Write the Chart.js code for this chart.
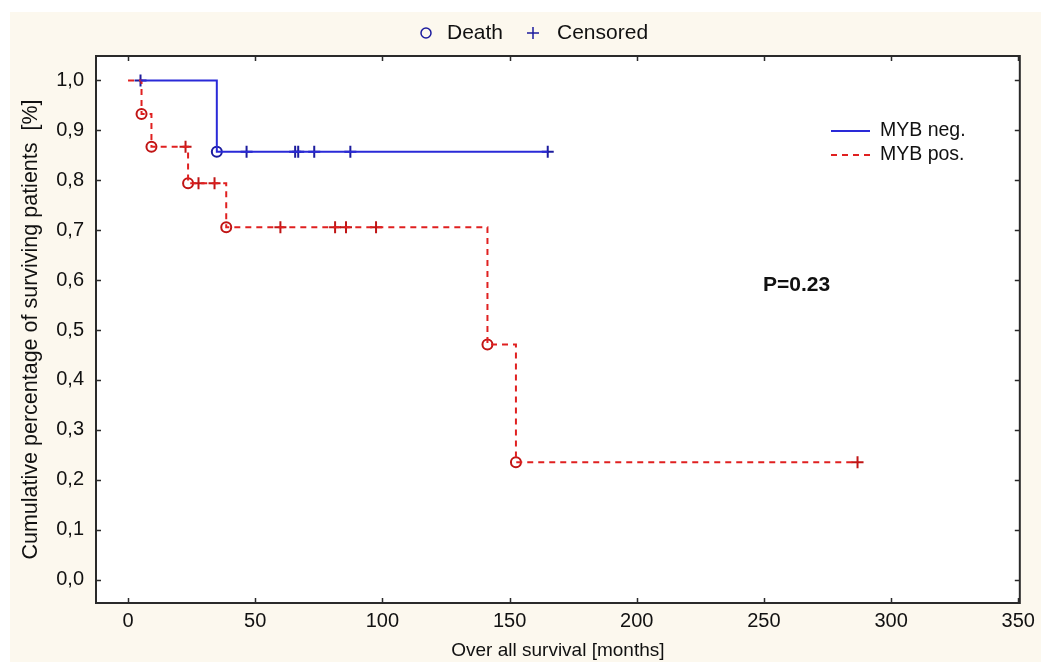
<!DOCTYPE html>
<html>
<head>
<meta charset="utf-8">
<script src="https://cdn.jsdelivr.net/npm/chart.js@4.4.1/dist/chart.umd.min.js"></script>
<style>
  body { margin: 0; background: #fff; }
  canvas { display: block; }
</style>
</head>
<body>
<canvas id="kmChart" width="1041" height="662"></canvas>
<script>
    // Kaplan-Meier curves (time in months, cumulative survival)
    const negCurveT = [4.9, 34.9, 165];
    const negCurveS = [1.0, 0.857, 0.857];
    const posCurveT = [0, 5.3, 9.2, 23.6, 38.6, 141.3, 152.5, 286.8];
    const posCurveS = [1.0, 0.933, 0.867, 0.794, 0.706, 0.471, 0.235, 0.235];

    // deaths (circles)
    const negDeathT = [34.9];
    const negDeathS = [0.857];
    const posDeathT = [5.3, 9.2, 23.6, 38.6, 141.3, 152.5];
    const posDeathS = [0.933, 0.867, 0.794, 0.706, 0.471, 0.235];

    // censored (crosses)
    const negCensT = [4.9, 46.6, 65.7, 66.9, 73.2, 87.4, 165];
    const negCensS = [1.0, 0.857, 0.857, 0.857, 0.857, 0.857, 0.857];
    const posCensT = [22.6, 27.7, 34, 59.9, 81.4, 85.7, 97.5, 286.8];
    const posCensS = [0.867, 0.794, 0.794, 0.706, 0.706, 0.706, 0.706, 0.235];

    const xTicks = [0, 50, 100, 150, 200, 250, 300, 350];
    const yTicks = [0, 0.1, 0.2, 0.3, 0.4, 0.5, 0.6, 0.7, 0.8, 0.9, 1.0];

    const BLUE = '#2a2ad8';
    const BLUE_DARK = '#1c1c9e';
    const RED = '#e02020';
    const RED_DARK = '#c01515';
    const TEXT = '#111';
    const FONT = '"Liberation Sans", Arial, sans-serif';

    const pts = (xs, ys) => xs.map((x, i) => ({ x: x, y: ys[i] }));

    // фон, рамка, внутренние засечки, легенды
    const decor = {
        id: 'decor',
        beforeDraw(chart) {
            const ctx = chart.ctx;
            const a = chart.chartArea;
            ctx.save();
            ctx.fillStyle = '#ffffff';
            ctx.fillRect(0, 0, chart.width, chart.height);
            ctx.fillStyle = '#fcf8ee';
            ctx.fillRect(10, 12, chart.width - 10, chart.height - 12);
            ctx.fillStyle = '#ffffff';
            ctx.fillRect(a.left, a.top, a.right - a.left, a.bottom - a.top);
            ctx.restore();
        },
        afterDraw(chart) {
            const ctx = chart.ctx;
            const a = chart.chartArea;
            const xs = chart.scales.x, ys = chart.scales.y;
            ctx.save();
            ctx.strokeStyle = '#2a2a2a';
            ctx.lineWidth = 2;
            ctx.strokeRect(a.left, a.top, a.right - a.left, a.bottom - a.top);

            ctx.lineWidth = 1.5;
            ctx.beginPath();
            xs.ticks.forEach(t => {
                const px = Math.round(xs.getPixelForValue(t.value)) + 0.5;
                ctx.moveTo(px, a.bottom); ctx.lineTo(px, a.bottom - 5);
                ctx.moveTo(px, a.top); ctx.lineTo(px, a.top + 5);
            });
            ys.ticks.forEach(t => {
                const py = Math.round(ys.getPixelForValue(t.value)) + 0.5;
                ctx.moveTo(a.left, py); ctx.lineTo(a.left + 5, py);
                ctx.moveTo(a.right, py); ctx.lineTo(a.right - 5, py);
            });
            ctx.stroke();

            // верхняя легенда
            ctx.font = '21px ' + FONT;
            ctx.textBaseline = 'middle';
            ctx.fillStyle = TEXT;
            ctx.strokeStyle = BLUE_DARK;
            ctx.lineWidth = 1.5;
            ctx.beginPath();
            ctx.arc(426, 33, 5, 0, Math.PI * 2);
            ctx.stroke();
            ctx.fillText('Death', 447, 33);
            ctx.beginPath();
            ctx.moveTo(527, 33); ctx.lineTo(539, 33);
            ctx.moveTo(533, 27); ctx.lineTo(533, 39);
            ctx.stroke();
            ctx.fillText('Censored', 557, 33);

            // легенда серий
            ctx.font = '19.5px ' + FONT;
            ctx.lineWidth = 2;
            ctx.strokeStyle = BLUE;
            ctx.beginPath();
            ctx.moveTo(831, 131); ctx.lineTo(870, 131);
            ctx.stroke();
            ctx.strokeStyle = RED;
            ctx.setLineDash([6, 5]);
            ctx.beginPath();
            ctx.moveTo(831, 155); ctx.lineTo(870, 155);
            ctx.stroke();
            ctx.setLineDash([]);
            ctx.fillText('MYB neg.', 880, 131);
            ctx.fillText('MYB pos.', 880, 155);

            ctx.font = 'bold 21px ' + FONT;
            ctx.fillText('P=0.23', 763, 285);
            ctx.restore();
        }
    };

    const config = {
        type: 'scatter',
        data: {
            datasets: [
                {
                    label: 'MYB neg.', data: pts(negCurveT, negCurveS), showLine: true, stepped: 'before',
                    borderColor: BLUE, borderWidth: 2, pointRadius: 0
                },
                {
                    label: 'MYB pos.', data: pts(posCurveT, posCurveS), showLine: true, stepped: 'before',
                    borderColor: RED, borderWidth: 2, borderDash: [6, 5], pointRadius: 0
                },
                {
                    label: 'neg death', data: pts(negDeathT, negDeathS), pointStyle: 'circle', pointRadius: 5,
                    borderColor: BLUE_DARK, backgroundColor: 'rgba(0,0,0,0)', borderWidth: 2
                },
                {
                    label: 'pos death', data: pts(posDeathT, posDeathS), pointStyle: 'circle', pointRadius: 5,
                    borderColor: RED_DARK, backgroundColor: 'rgba(0,0,0,0)', borderWidth: 2
                },
                {
                    label: 'pos censored', data: pts(posCensT, posCensS), pointStyle: 'cross', pointRadius: 6,
                    borderColor: RED_DARK, borderWidth: 2
                },
                {
                    label: 'neg censored', data: pts(negCensT, negCensS), pointStyle: 'cross', pointRadius: 6,
                    borderColor: BLUE_DARK, borderWidth: 2
                }
            ]
        },
        options: {
            responsive: false,
            animation: false,
            events: [],
            layout: { padding: { top: 56, right: 19, bottom: 0, left: 0 } },
            plugins: { legend: { display: false }, tooltip: { enabled: false } },
            scales: {
                x: {
                    type: 'linear', min: -12.6, max: 350.6,
                    grid: { display: false, drawTicks: false }, border: { display: false },
                    afterBuildTicks: s => { s.ticks = xTicks.map(v => ({ value: v })); },
                    afterFit: s => { s.height = 59; },
                    ticks: { color: TEXT, padding: 6, font: { family: FONT, size: 20 } },
                    title: {
                        display: true, text: 'Over all survival [months]', color: TEXT,
                        font: { family: FONT, size: 19 }, padding: { top: 0, bottom: 0 }
                    }
                },
                y: {
                    type: 'linear', min: -0.047, max: 1.049,
                    grid: { display: false, drawTicks: false }, border: { display: false },
                    afterBuildTicks: s => { s.ticks = yTicks.map(v => ({ value: v })); },
                    afterFit: s => { s.width = 96; },
                    ticks: {
                        color: TEXT, padding: 12, font: { family: FONT, size: 20 },
                        callback: v => v.toFixed(1).replace('.', ',')
                    },
                    title: {
                        display: true, text: 'Cumulative percentage of surviving patients  [%]', color: TEXT,
                        font: { family: FONT, size: 21.5 }, padding: { top: 18, bottom: 0 }
                    }
                }
            }
        },
        plugins: [decor]
    };

    new Chart(document.getElementById('kmChart'), config);
</script>
</body>
</html>
